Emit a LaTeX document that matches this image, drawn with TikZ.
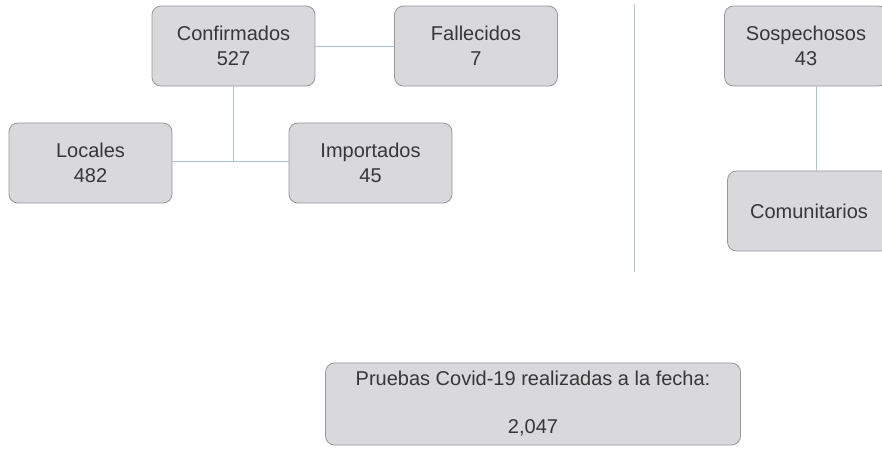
\documentclass[tikz,border=0pt]{standalone}
\usepackage{fontspec}
\setmainfont{Liberation Sans}
\usetikzlibrary{positioning}
\definecolor{boxfill}{RGB}{217,217,220}
\definecolor{boxline}{RGB}{150,150,156}
\definecolor{linkblue}{RGB}{170,196,216}
\definecolor{textgray}{RGB}{55,55,55}
\tikzstyle{casebox}=[rectangle,rounded corners=9pt,draw=boxline,fill=boxfill,line width=0.8pt,
  minimum width=163pt,minimum height=80pt,align=center,text=textgray,
  font=\fontsize{20}{25}\selectfont,inner sep=0pt]
\tikzstyle{link}=[draw=linkblue,line width=1pt]

\begin{document}
\begin{tikzpicture}[x=1pt,y=-1pt]
	\useasboundingbox (0,0) rectangle (882,448);
	% left group
	\node [casebox] (conf) at (233.5,46)  {Confirmados\\527};
	\node [casebox] (fall) at (476,46)    {Fallecidos\\7};
	\node [casebox] (loc)  at (90.5,163)  {Locales\\482};
	\node [casebox] (imp)  at (370.5,163) {Importados\\45};
	\coordinate (junc) at (conf |- 0,161);

	\path[link]
		(conf) edge (fall)
		(conf) edge (junc)
		(loc.east |- junc) edge (imp.west |- junc);

	% divider
	\coordinate (divtop) at (634,4);
	\coordinate (divbot) at (634,272);
	\draw[link] (divtop) -- (divbot);

	% right group
	\node [casebox] (sosp) at (806,46)  {Sospechosos\\43};
	\node [casebox] (comu) at (809,211) {Comunitarios};
	\draw[link] ([xshift=10pt]sosp.south) -- ([xshift=7pt]comu.north);

	% tests
	\node [casebox,minimum width=415pt,minimum height=82pt,font=\fontsize{20}{24}\selectfont]
		(test) at (533,404) {Pruebas Covid-19 realizadas a la fecha:\\[24pt]2,047};
\end{tikzpicture}
\end{document}
